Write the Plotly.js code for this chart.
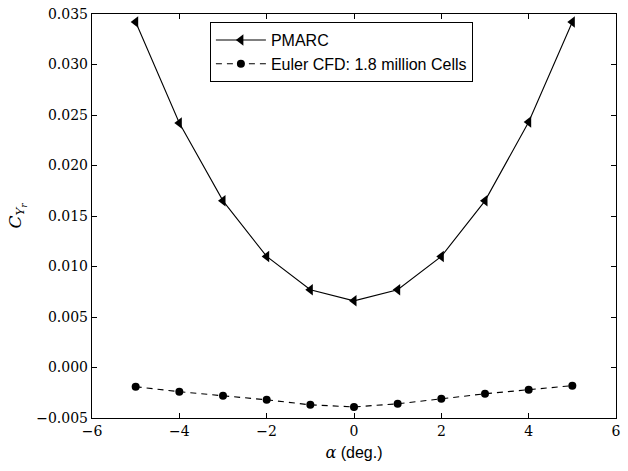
<!DOCTYPE html>
<html>
<head>
<meta charset="utf-8">
<script src="https://cdn.plot.ly/plotly-3.0.1.min.js"></script>
<style>html,body{margin:0;padding:0;background:#fff;}#chart{width:628px;height:471px;}</style>
</head>
<body>
<div id="chart"></div>
<script>
const alpha = [-5, -4, -3, -2, -1, 0, 1, 2, 3, 4, 5];
const pmarc = [0.0342, 0.0242, 0.0165, 0.0110, 0.0077, 0.0066, 0.0077, 0.0110, 0.0165, 0.0243, 0.0342];
const euler = [-0.0019, -0.0024, -0.0028, -0.0032, -0.0037, -0.0039, -0.0036, -0.0031, -0.0026, -0.0022, -0.0018];
const xTicks = [-6, -4, -2, 0, 2, 4, 6];
const yTicks = [-0.005, 0, 0.005, 0.010, 0.015, 0.020, 0.025, 0.030, 0.035];

const traces = [
  {x: alpha, y: pmarc, name: 'PMARC', mode: 'lines+markers',
   line: {color: '#000', width: 1.1},
   marker: {symbol: 'triangle-left', size: 10, color: '#000'}},
  {x: alpha, y: euler, name: 'Euler CFD: 1.8 million Cells', mode: 'lines+markers',
   line: {color: '#000', width: 1.1, dash: '6px,5px'},
   marker: {symbol: 'circle', size: 8, color: '#000'}}
];
const serif = 'DejaVu Serif';
const layout = {
  width: 628, height: 471,
  font: {family: serif, size: 14, color: '#000'},
  margin: {l: 92, r: 12, t: 14, b: 53},
  paper_bgcolor: '#fff', plot_bgcolor: '#fff',
  showlegend: true,
  legend: {x: 0.225, y: 0.98, xanchor: 'left', yanchor: 'top',
    bordercolor: '#000', borderwidth: 1, bgcolor: '#fff',
    itemwidth: 50,
    font: {family: 'Liberation Sans', size: 16, color: '#000'},
    tracegroupgap: 0},
  xaxis: {range: [-6, 6], tickmode: 'array', tickvals: xTicks, ticktext: xTicks.map(v => v < 0 ? '\u2212' + Math.abs(v) : String(v)),
    ticks: 'inside', ticklen: 5, tickcolor: '#000', mirror: 'ticks', showline: true, linecolor: '#000', linewidth: 1.2,
    showgrid: false, zeroline: false,
    tickfont: {family: serif, size: 14, color: '#000'},
    title: {text: '<i>α</i><span style="font-family:Liberation Sans"> (deg.)</span>', font: {family: serif, size: 16, color: '#000'}, standoff: 8}},
  yaxis: {range: [-0.005, 0.035], tickmode: 'array', tickvals: yTicks, ticktext: yTicks.map(v => (v < 0 ? '\u2212' : '') + Math.abs(v).toFixed(3)),
    ticks: 'inside', ticklen: 5, tickcolor: '#000', mirror: 'ticks', showline: true, linecolor: '#000', linewidth: 1.2,
    showgrid: false, zeroline: false,
    tickfont: {family: serif, size: 14, color: '#000'},
    title: {text: '<i>C</i><sub><i>Y<sub>r</sub></i></sub>', font: {family: serif, size: 17, color: '#000'}, standoff: 10}}
};
Plotly.newPlot('chart', traces, layout, {displayModeBar: false, staticPlot: true});
</script>
</body>
</html>
